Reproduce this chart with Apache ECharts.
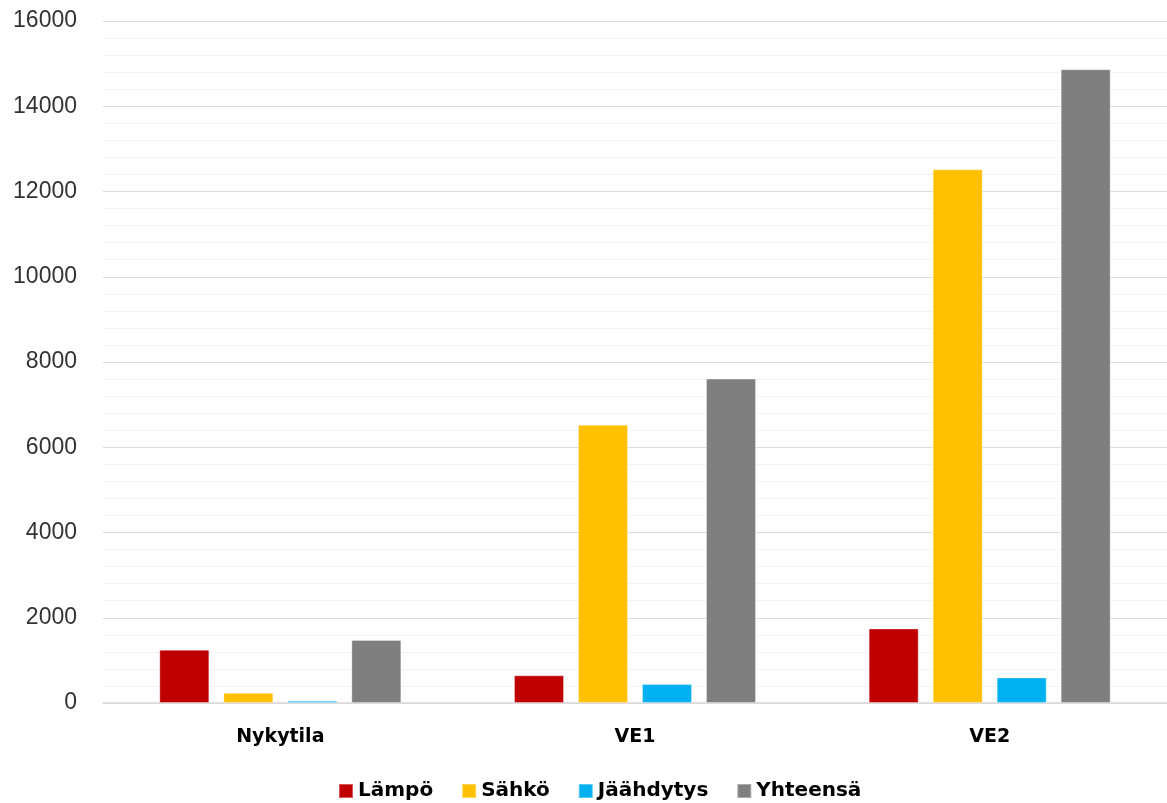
<!DOCTYPE html>
<html>
<head>
<meta charset="utf-8">
<script src="https://cdn.jsdelivr.net/npm/echarts@6/dist/echarts.min.js"></script>
<style>
html,body{margin:0;padding:0;background:#fff;}
#chart{width:1167px;height:803px;}
</style>
</head>
<body>
<div id="chart"></div>
<script>
const categories = ['Nykytila', 'VE1', 'VE2'];
const seriesNames = ['Lämpö', 'Sähkö', 'Jäähdytys', 'Yhteensä'];
const lampo = [1250, 650, 1750];
const sahko = [240, 6530, 12520];
const jaahdytys = [50, 445, 600];
const yhteensa = [1480, 7610, 14870];
const colors = ['#C00000', '#FFC000', '#00B0F0', '#7F7F7F'];
const values = [lampo, sahko, jaahdytys, yhteensa];

const chart = echarts.init(document.getElementById('chart'));
chart.setOption({
  animation: false,
  backgroundColor: '#ffffff',
  grid: {left: 103, right: 0, top: 21, bottom: 100, containLabel: false},
  legend: {
    data: seriesNames,
    top: 776,
    left: 333,
    itemWidth: 14, itemHeight: 14,
    itemGap: 28,
    icon: 'rect',
    textStyle: {fontFamily: 'DejaVu Sans', fontWeight: 'bold', fontSize: 20, color: '#000'}
  },
  xAxis: {
    type: 'category',
    data: categories,
    axisLine: {lineStyle: {color: '#D9D9D9', width: 1.5}},
    axisTick: {show: false},
    axisLabel: {fontFamily: 'DejaVu Sans', fontWeight: 'bold', fontSize: 19, color: '#000', margin: 25}
  },
  yAxis: {
    type: 'value',
    min: 0, max: 16000, interval: 2000,
    axisLine: {show: false},
    axisTick: {show: false},
    axisLabel: {fontFamily: 'Liberation Sans', fontSize: 23, color: '#333', margin: 26,
      formatter: v => String(v)},
    splitLine: {lineStyle: {color: '#DCDCDC', width: 1}},
    minorTick: {show: false, splitNumber: 5},
    minorSplitLine: {show: true, lineStyle: {color: '#F2F2F2', width: 1}}
  },
  series: seriesNames.map((n, i) => ({
    name: n,
    type: 'bar',
    data: values[i],
    barWidth: 50,
    barGap: '28%',
    itemStyle: {color: colors[i], borderColor: 'rgba(255,255,255,0.35)', borderWidth: 1}
  }))
});
</script>
</body>
</html>
